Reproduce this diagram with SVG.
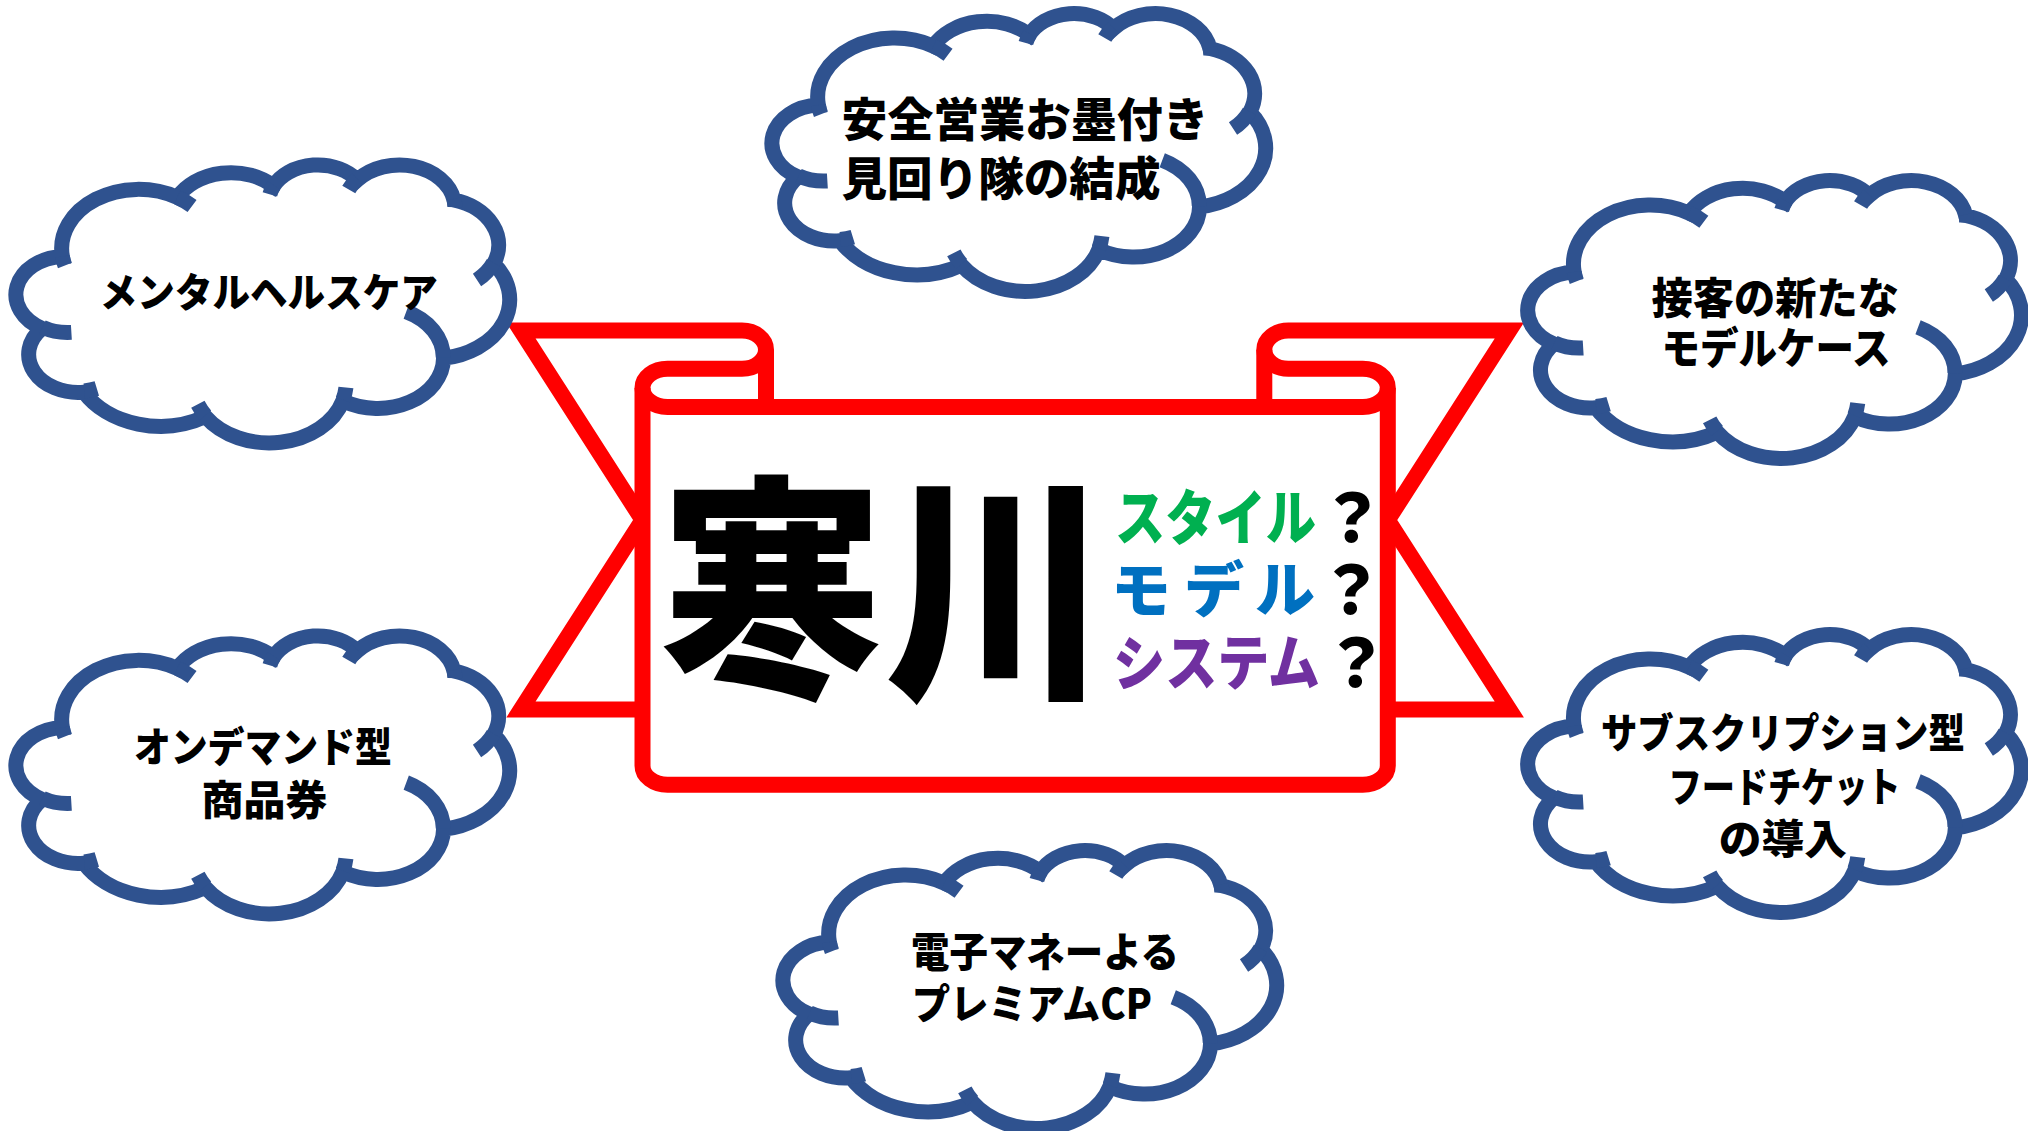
<svg xmlns="http://www.w3.org/2000/svg" xmlns:xlink="http://www.w3.org/1999/xlink" width="2028" height="1131" viewBox="0 0 2028 1131">
<style>
.cb{fill:#fff;stroke:#2F528F;stroke-width:15;vector-effect:non-scaling-stroke}
.ca{fill:none;stroke:#2F528F;stroke-width:15;vector-effect:non-scaling-stroke}
.rl{fill:none;stroke:#FF0000;stroke-width:16;stroke-linejoin:miter}
.rb{fill:#fff;stroke:#FF0000;stroke-width:16;stroke-linejoin:miter}
.t{font-family:"Noto Sans CJK JP","Noto Sans",sans-serif;font-weight:900;fill:#000}
.m{text-anchor:middle}
</style>
<defs>
<path id="cloudBody" class="cb" d="M 39.00 143.70 A 67.53 91.90 0 0 1 140.06 52.03 A 53.33 72.67 0 0 1 224.56 34.34 A 43.65 59.45 0 0 1 298.35 24.84 A 48.57 65.95 0 0 1 383.20 55.79 A 53.33 72.73 0 0 1 418.21 154.62 A 67.75 92.20 0 0 1 374.05 302.04 A 57.85 78.67 0 0 1 285.57 368.14 A 67.52 92.15 0 0 1 164.82 392.66 A 77.20 105.43 0 0 1 58.06 354.74 A 43.60 59.18 0 0 1 21.16 255.51 A 43.45 59.45 0 0 1 39.00 143.70 Z"/>
<path id="cloudArcs" class="ca" d="M 46.93 261.77 A 43.45 59.45 0 0 1 21.60 253.80 M 69.28 348.99 A 43.60 59.18 0 0 1 58.19 352.81 M 164.78 390.90 A 67.52 92.15 0 0 1 158.10 373.49 M 288.27 347.51 A 67.52 92.15 0 0 1 285.60 366.60 M 341.29 229.54 A 57.85 78.67 0 0 1 373.80 300.90 M 417.98 153.54 A 53.33 72.73 0 0 1 403.50 180.31 M 383.24 54.26 A 48.57 65.95 0 0 1 384.00 66.89 M 290.78 39.52 A 48.57 65.95 0 0 1 298.19 23.41 M 221.41 47.20 A 43.65 59.45 0 0 1 225.00 33.31 M 140.00 51.92 A 67.53 91.90 0 0 1 153.00 65.41 M 41.27 157.89 A 67.53 91.90 0 0 1 39.00 143.71"/>
</defs>
<rect width="2028" height="1131" fill="#fff"/>

<g id="banner">
<path class="rl" d="M 642.5 709.4 L 521 709.4 L 642.5 520 L 521 330.6 L 742 330.6 A 24 19.1 0 0 1 766 349.7 A 24 19.1 0 0 1 742 368.8 L 667.5 368.8 A 25 19.1 0 0 0 642.5 387.9"/>
<path class="rl" d="M 1387.8 709.4 L 1509.3 709.4 L 1387.8 520 L 1509.3 330.6 L 1288.3 330.6 A 24 19.1 0 0 0 1264.3 349.7 A 24 19.1 0 0 0 1288.3 368.8 L 1362.8 368.8 A 25 19.1 0 0 1 1387.8 387.9"/>
<path class="rb" d="M 642.5 387.9 L 642.5 765.7 A 25 19 0 0 0 667.5 784.7 L 1362.8 784.7 A 25 19 0 0 0 1387.8 765.7 L 1387.8 387.9"/>
<path class="rl" d="M 642.5 387.9 A 25 19.1 0 0 0 667.5 407 L 1362.8 407 A 25 19.1 0 0 0 1387.8 387.9"/>
<path class="rl" d="M 766 349.7 V 407 M 1264.3 349.7 V 407"/>
<text class="t" x="660" y="680" font-size="240" textLength="448" lengthAdjust="spacingAndGlyphs">寒川</text>
<text class="t" font-size="60"><tspan x="1115" y="539.5" textLength="201" lengthAdjust="spacingAndGlyphs" style="fill:#00B050">スタイル</tspan><tspan x="1319" y="542" font-size="66">？</tspan><tspan x="1111 1184 1255" y="611.7" style="fill:#0070C0">モデル</tspan><tspan x="1318" y="614" font-size="66">？</tspan><tspan x="1113" y="684.7" textLength="207" lengthAdjust="spacingAndGlyphs" style="fill:#7030A0">システム</tspan><tspan x="1323" y="687" font-size="66">？</tspan></text>
</g>

<g id="connectors"></g>

<g id="node-mental">
<g transform="translate(18 164) scale(1.1376 0.6432)"><use href="#cloudBody"/><use href="#cloudArcs"/></g>
<text class="t m" x="268.8" y="306.8" font-size="40" textLength="338" lengthAdjust="spacingAndGlyphs">メンタルヘルスケア</text>
</g>

<g id="node-anzen">
<g transform="translate(774 12.6) scale(1.1376 0.6432)"><use href="#cloudBody"/><use href="#cloudArcs"/></g>
<text class="t" font-size="46"><tspan x="841.5" y="136.2" textLength="367" lengthAdjust="spacingAndGlyphs">安全営業お墨付き</tspan><tspan x="841.5" y="194.5" textLength="319" lengthAdjust="spacingAndGlyphs">見回り隊の結成</tspan></text>
</g>

<g id="node-sekkyaku">
<g transform="translate(1529.8 179.6) scale(1.1376 0.6432)"><use href="#cloudBody"/><use href="#cloudArcs"/></g>
<text class="t m" font-size="43"><tspan x="1775.3" y="313.7" textLength="247.5" lengthAdjust="spacingAndGlyphs">接客の新たな</tspan><tspan x="1776.1" y="364.3" textLength="229" lengthAdjust="spacingAndGlyphs">モデルケース</tspan></text>
</g>

<g id="node-subscription">
<g transform="translate(1529.8 633.6) scale(1.1376 0.6432)"><use href="#cloudBody"/><use href="#cloudArcs"/></g>
<text class="t m" font-size="41"><tspan x="1782.9" y="747.9" textLength="364" lengthAdjust="spacingAndGlyphs">サブスクリプション型</tspan><tspan x="1784.5" y="801.8" textLength="232" lengthAdjust="spacingAndGlyphs">フードチケット</tspan><tspan x="1782.8" y="853.9" textLength="128" lengthAdjust="spacingAndGlyphs">の導入</tspan></text>
</g>

<g id="node-emoney">
<g transform="translate(785 849.6) scale(1.1376 0.6432)"><use href="#cloudBody"/><use href="#cloudArcs"/></g>
<text class="t" font-size="41"><tspan x="911" y="967.4" textLength="268" lengthAdjust="spacingAndGlyphs">電子マネーよる</tspan><tspan x="912" y="1019.1" textLength="240" lengthAdjust="spacingAndGlyphs">プレミアムCP</tspan></text>
</g>

<g id="node-ondemand">
<g transform="translate(18 635) scale(1.1376 0.6432)"><use href="#cloudBody"/><use href="#cloudArcs"/></g>
<text class="t m" font-size="41"><tspan x="262.9" y="762" textLength="258" lengthAdjust="spacingAndGlyphs">オンデマンド型</tspan><tspan x="264.5" y="815.2" textLength="126" lengthAdjust="spacingAndGlyphs">商品券</tspan></text>
</g>
</svg>
